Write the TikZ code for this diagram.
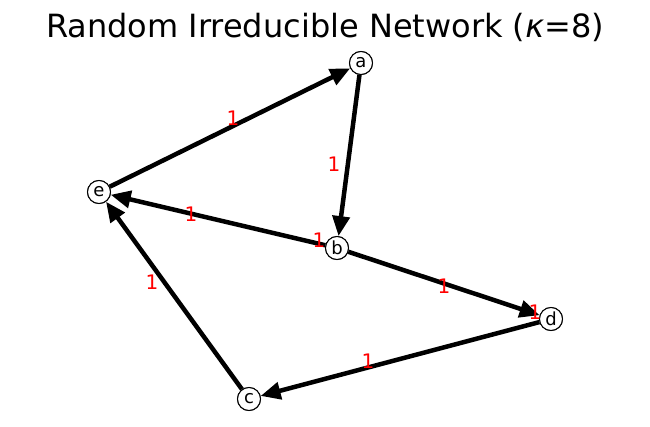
\documentclass[tikz,border=0pt]{standalone}
\usepackage{fontspec}
\setmainfont{DejaVu Sans}
\usetikzlibrary{arrows.meta}
\begin{document}
\begin{tikzpicture}[x=1pt,y=-1pt,
  vtx/.style={circle,draw,fill=white,line width=1pt,minimum size=23pt,inner sep=0pt,font=\fontsize{18}{18}\selectfont},
  edge/.style={line width=4.5pt,-{Triangle[length=20pt,width=17pt]}},
  wlab/.style={text=red,font=\fontsize{20}{20}\selectfont,inner sep=0pt}]
\useasboundingbox (0,0) rectangle (650,426);
\node[font=\fontsize{32}{32}\selectfont] (t) at (325,27) {Random Irreducible Network (\textit{κ}=8)};
\node[vtx] (a) at (361,63) {a};
\node[vtx] (b) at (337,248) {b};
\node[vtx] (c) at (249,399) {c};
\node[vtx] (d) at (551,319) {d};
\node[vtx] (e) at (99,192) {e};
\draw[edge] (e) -- (a);
\draw[edge] (a) -- (b);
\draw[edge] (b) -- (e);
\draw[edge] (b) -- (d);
\draw[edge] (d) -- (c);
\draw[edge] (c) -- (e);
\node[vtx] at (a) {a};
\node[vtx] at (b) {b};
\node[vtx] at (c) {c};
\node[vtx] at (d) {d};
\node[vtx] at (e) {e};
\node[wlab] (l1) at (233,118) {1};
\node[wlab] (l2) at (334,164) {1};
\node[wlab] (l3) at (191,214) {1};
\node[wlab] (l4) at (444,286) {1};
\node[wlab] (l5) at (368,361) {1};
\node[wlab] (l6) at (152,282) {1};
\node[wlab] (l7) at (319,240) {1};
\node[wlab] (l8) at (535,312) {1};
\end{tikzpicture}
\end{document}
